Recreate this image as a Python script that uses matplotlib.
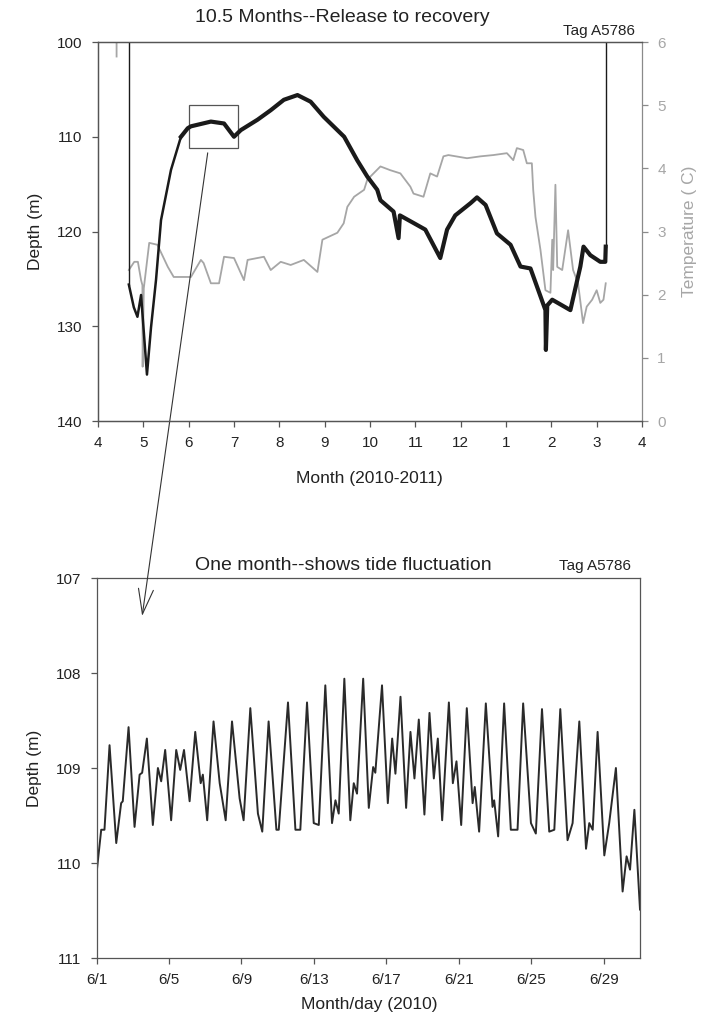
import matplotlib
matplotlib.use("Agg")
import matplotlib.pyplot as plt
from matplotlib.patches import Rectangle, ConnectionPatch

plt.rcParams["font.family"] = ["Liberation Sans", "DejaVu Sans"]

# ---- top panel: whole deployment, x in months (4 = April 2010 ... 16 = April 2011)
month_ticks = [4, 5, 6, 7, 8, 9, 10, 11, 12, 13, 14, 15, 16]
month_labels = ["4", "5", "6", "7", "8", "9", "10", "11", "12", "1", "2", "3", "4"]

# tag descending from the surface after release / pulled up at recovery
entry_month = [4.68, 4.68]
entry_depth = [100.0, 125.6]
exit_month = [15.2, 15.2]
exit_depth = [121.6, 100.0]

depth_month = [4.68, 4.79, 4.87, 4.95, 5.08, 5.17, 5.28, 5.39, 5.61, 5.83, 5.98,
               6.05, 6.49, 6.78, 7.0, 7.15, 7.52, 7.81, 8.1, 8.4, 8.69, 8.98,
               9.43, 9.72, 9.94, 10.16, 10.23, 10.52, 10.63, 10.66, 10.96, 11.22,
               11.55, 11.7, 11.88, 12.22, 12.36, 12.55, 12.8, 13.1, 13.32, 13.54,
               13.69, 13.87, 13.88, 13.91, 14.02, 14.42, 14.64, 14.71, 14.86,
               15.08, 15.19, 15.2]
depth_m = [125.6, 128.0, 129.0, 126.7, 135.1, 130.1, 125.1, 118.8, 113.5, 110.0, 109.1,
           108.9, 108.4, 108.6, 110.0, 109.3, 108.2, 107.2, 106.1, 105.6, 106.3, 107.9,
           110.0, 112.5, 114.2, 115.6, 116.7, 117.9, 120.7, 118.3, 119.1, 119.8,
           122.8, 119.8, 118.3, 117.0, 116.4, 117.2, 120.2, 121.4, 123.7, 123.9,
           125.9, 128.3, 132.5, 127.8, 127.2, 128.3, 123.7, 121.6, 122.5,
           123.2, 123.2, 121.6]

temp_month = [4.41, 4.41, None,
              4.68, 4.8, 4.88, 4.95, 4.98, 4.985, 5.01, 5.13, 5.31, 5.54, 5.67, 6.05,
              6.27, 6.33, 6.49, 6.67, 6.78, 7.0, 7.22, 7.3, 7.66, 7.81, 8.03, 8.25,
              8.54, 8.84, 8.95, 9.28, 9.42, 9.5, 9.65, 9.87, 9.94, 10.23, 10.45,
              10.67, 10.89, 10.96, 11.18, 11.33, 11.48, 11.62, 11.73, 12.14, 12.44,
              12.72, 13.02, 13.16, 13.24, 13.38, 13.46, 13.57, 13.6, 13.65, 13.76,
              13.87, 13.98, 14.02, 14.04, 14.09, 14.13, 14.24, 14.37, 14.48, 14.59,
              14.7, 14.78, 14.9, 15.0, 15.08, 15.15, 15.2]
temp_c = [6.3, 5.77, None,
          2.39, 2.52, 2.52, 2.23, 2.15, 0.86, 2.1, 2.82, 2.79, 2.44, 2.28, 2.28,
          2.55, 2.5, 2.18, 2.18, 2.6, 2.58, 2.23, 2.55, 2.6, 2.39, 2.52, 2.47,
          2.55, 2.36, 2.87, 2.98, 3.13, 3.39, 3.55, 3.66, 3.82, 4.03, 3.97,
          3.92, 3.71, 3.6, 3.55, 3.92, 3.87, 4.19, 4.21, 4.16, 4.19,
          4.21, 4.24, 4.13, 4.32, 4.29, 4.08, 4.08, 3.66, 3.23, 2.71,
          2.07, 2.03, 2.87, 2.39, 3.74, 2.44, 2.39, 3.02, 2.39, 2.18,
          1.55, 1.81, 1.92, 2.07, 1.87, 1.92, 2.18]
temp_month = [float("nan") if v is None else v for v in temp_month]
temp_c = [float("nan") if v is None else v for v in temp_c]

zoom_box_month = [6.0, 7.08]
zoom_box_depth = [106.7, 111.2]

# ---- bottom panel: June 2010, x in days since 6/1
day_ticks = [0, 4, 8, 12, 16, 20, 24, 28]
day_labels = ["6/1", "6/5", "6/9", "6/13", "6/17", "6/21", "6/25", "6/29"]

june_day = [0.03, 0.26, 0.44, 0.72, 1.09, 1.36, 1.45, 1.77, 2.10, 2.38, 2.52, 2.78,
            3.11, 3.39, 3.57, 3.79, 4.12, 4.40, 4.62, 4.83, 5.14, 5.45, 5.75, 5.87,
            6.11, 6.46, 6.80, 7.13, 7.48, 7.90, 8.12, 8.49, 8.91, 9.15, 9.50, 9.93,
            10.06, 10.57, 10.98, 11.25, 11.62, 11.99, 12.27, 12.63, 13.00, 13.19,
            13.37, 13.68, 14.01, 14.20, 14.38, 14.72, 15.03, 15.27, 15.39, 15.76,
            16.08, 16.32, 16.50, 16.78, 17.09, 17.33, 17.55, 17.79, 18.10, 18.38,
            18.62, 18.84, 19.08, 19.45, 19.67, 19.87, 20.13, 20.44, 20.76, 20.88,
            21.12, 21.49, 21.86, 21.95, 22.17, 22.50, 22.87, 23.24, 23.55, 23.98,
            24.25, 24.59, 24.99, 25.27, 25.60, 26.00, 26.28, 26.65, 27.02, 27.20,
            27.39, 27.66, 28.03, 28.30, 28.67, 29.04, 29.26, 29.45, 29.69, 30.0]
june_depth = [110.06, 109.65, 109.65, 108.76, 109.79, 109.37, 109.35, 108.57, 109.62,
              109.07, 109.05, 108.69, 109.60, 109.0, 109.14, 108.81, 109.55, 108.81,
              109.02, 108.81, 109.35, 108.62, 109.16, 109.07, 109.55, 108.51, 109.16,
              109.55, 108.51, 109.32, 109.55, 108.37, 109.48, 109.67, 108.51, 109.65,
              109.65, 108.31, 109.65, 109.65, 108.31, 109.58, 109.6, 108.13, 109.58,
              109.34, 109.48, 108.06, 109.55, 109.16, 109.27, 108.06, 109.42, 108.99,
              109.05, 108.13, 109.37, 108.69, 109.06, 108.25, 109.42, 108.62, 109.11,
              108.49, 109.49, 108.42, 109.11, 108.69, 109.55, 108.31, 109.16, 108.93,
              109.6, 108.37, 109.37, 109.2, 109.67, 108.32, 109.41, 109.34, 109.72,
              108.32, 109.65, 109.65, 108.32, 109.58, 109.69, 108.38, 109.67, 109.65,
              108.38, 109.76, 109.58, 108.51, 109.85, 109.58, 109.65, 108.62, 109.92,
              109.58, 109.0, 110.3, 109.93, 110.07, 109.44, 110.49]

W, H = 717, 1022
fig = plt.figure(figsize=(W / 100, H / 100), dpi=100)

spine_col = "#555555"
grey = "#a6a6a6"
text_col = "#222222"


def px_axes(left, top, right, bottom):
    return fig.add_axes([left / W, 1 - bottom / H, (right - left) / W, (bottom - top) / H])


def style(ax):
    for s in ax.spines.values():
        s.set_color(spine_col)
        s.set_linewidth(0.9)
    ax.tick_params(direction="out", length=4, width=0.9, color=spine_col,
                   labelsize=11, labelcolor=text_col, pad=7)


# top panel
ax1 = px_axes(98, 42, 642, 421)
ax1t = ax1.twinx()
ax1.set_zorder(ax1t.get_zorder() + 1)
ax1.patch.set_visible(False)

ax1t.plot(temp_month, temp_c, color=grey, lw=1.3)
# descent after release is drawn thinner than the noisy bottom record
ax1.plot(depth_month[:10], depth_m[:10], color="#1a1a1a", lw=1.8, solid_joinstyle="round")
ax1.plot(depth_month[9:], depth_m[9:], color="#1a1a1a", lw=3.0, solid_joinstyle="round")
ax1.plot(entry_month, entry_depth, color="#1a1a1a", lw=1.0)
ax1.plot(exit_month, exit_depth, color="#1a1a1a", lw=1.0)
ax1.add_patch(Rectangle((zoom_box_month[0], zoom_box_depth[0]),
                        zoom_box_month[1] - zoom_box_month[0],
                        zoom_box_depth[1] - zoom_box_depth[0],
                        fill=False, edgecolor=spine_col, lw=0.9))

ax1.set_xlim(4, 16)
ax1.set_ylim(140, 100)
ax1.set_xticks(month_ticks)
ax1.set_xticklabels(month_labels)
ax1.set_yticks([100, 110, 120, 130, 140])
style(ax1)
ax1.spines["right"].set_visible(False)
ax1.set_ylabel("Depth (m)", fontsize=12.5, color=text_col, labelpad=10)

ax1t.set_ylim(0, 6)
ax1t.set_yticks([0, 1, 2, 3, 4, 5, 6])
style(ax1t)
ax1t.spines["right"].set_color("#8a8a8a")
ax1t.tick_params(colors="#8a8a8a", labelcolor=grey)
ax1t.set_ylabel("Temperature ( C)", fontsize=12.5, color=grey, labelpad=12)

fig.text(342 / W, 1 - 18 / H, "10.5 Months--Release to recovery",
         ha="center", va="center", fontsize=14, color=text_col)
fig.text(635 / W, 1 - 31 / H, "Tag A5786", ha="right", va="center",
         fontsize=11, color=text_col)
fig.text(369 / W, 1 - 478 / H, "Month (2010-2011)", ha="center", va="center",
         fontsize=12.5, color=text_col)

# bottom panel
ax2 = px_axes(96.5, 578, 640, 958)
ax2.plot(june_day, june_depth, color="#2a2a2a", lw=1.4)
ax2.set_xlim(0, 30)
ax2.set_ylim(111, 107)
ax2.set_xticks(day_ticks)
ax2.set_xticklabels(day_labels)
ax2.set_yticks([107, 108, 109, 110, 111])
style(ax2)
ax2.set_ylabel("Depth (m)", fontsize=12.5, color=text_col, labelpad=10)

fig.text(343 / W, 1 - 565 / H, "One month--shows tide fluctuation",
         ha="center", va="center", fontsize=14, color=text_col)
fig.text(631 / W, 1 - 566 / H, "Tag A5786", ha="right", va="center",
         fontsize=11, color=text_col)
fig.text(369 / W, 1 - 1004 / H, "Month/day (2010)", ha="center", va="center",
         fontsize=12.5, color=text_col)

# arrow from the box in the top panel down to the June panel
con = ConnectionPatch(xyA=(6.42, 111.7), coordsA=ax1.transData,
                      xyB=(2.52, 107.4), coordsB=ax2.transData,
                      arrowstyle="->,head_length=1.0,head_width=0.3",
                      mutation_scale=18, color="#333333", lw=0.8)
fig.add_artist(con)

fig.savefig("out.png", dpi=100)
